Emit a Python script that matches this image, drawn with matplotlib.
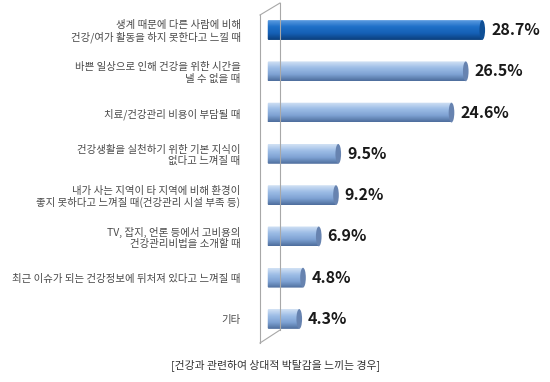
import numpy as np
import matplotlib.pyplot as plt
from matplotlib.patches import Ellipse, FancyBboxPatch
from matplotlib.colors import LinearSegmentedColormap
from matplotlib.lines import Line2D

plt.rcParams['font.family'] = ['Noto Sans CJK KR', 'DejaVu Sans']

categories = [
    '생계 때문에 다른 사람에 비해\n건강/여가 활동을 하지 못한다고 느낄 때',
    '바쁜 일상으로 인해 건강을 위한 시간을\n낼 수 없을 때',
    '치료/건강관리 비용이 부담될 때',
    '건강생활을 실천하기 위한 기본 지식이\n없다고 느껴질 때',
    '내가 사는 지역이 타 지역에 비해 환경이\n좋지 못하다고 느껴질 때(건강관리 시설 부족 등)',
    'TV, 잡지, 언론 등에서 고비용의\n건강관리비법을 소개할 때',
    '최근 이슈가 되는 건강정보에 뒤처져 있다고 느껴질 때',
    '기타',
]
values = [28.7, 26.5, 24.6, 9.5, 9.2, 6.9, 4.8, 4.3]
caption = '[건강과 관련하여 상대적 박탈감을 느끼는 경우]'

W, H = 550, 382
fig = plt.figure(figsize=(W / 100, H / 100), dpi=100)

# axes placed in pixel terms: bars start at x=267, ~7.5 px per percent
x0, px_per = 267, 7.5
xmax = 37
top_px, bot_px = 9.4, 339.6
ax = fig.add_axes([x0 / W, 1 - bot_px / H, xmax * px_per / W, (bot_px - top_px) / H])
ax.set_xlim(0, xmax)
ax.set_ylim(len(values) - 0.5, -0.5)
for s in ax.spines.values():
    s.set_visible(False)
ax.set_xticks([])

cmap_light = LinearSegmentedColormap.from_list('light', ['#d2e2f5', '#9dbde6', '#7fa3d4', '#4d6d9c'])
cmap_dark = LinearSegmentedColormap.from_list('dark', ['#5a9be0', '#1f70c8', '#1560b5', '#0b3f7c'])

bh = 0.48
cap_w = 0.75
grad = np.linspace(0, 1, 64).reshape(-1, 1)
for i, v in enumerate(values):
    cm = cmap_dark if i == 0 else cmap_light
    cap_col = '#0f4f96' if i == 0 else '#6783b0'
    body = FancyBboxPatch((0.1, i - bh / 2), v - 0.1, bh,
                          boxstyle='round,pad=0,rounding_size=0.12',
                          mutation_aspect=1 / 4, facecolor='none', edgecolor='none')
    ax.add_patch(body)
    im = ax.imshow(grad, cmap=cm, aspect='auto', extent=(0, v, i + bh / 2, i - bh / 2),
                   interpolation='bicubic', zorder=2)
    im.set_clip_path(body)
    ax.add_patch(Ellipse((v, i), cap_w, bh, facecolor=cap_col, edgecolor='none', zorder=3))
    ax.text(v + cap_w / 2 + 0.8, i, f'{v}%', va='center', ha='left',
            fontsize=11.5, fontweight='bold', color='#1a1a1a', zorder=4)

ax.set_yticks(range(len(values)))
ax.set_yticklabels(categories, fontsize=7.5, color='#4a4a4a')
for lab in ax.get_yticklabels():
    lab.set_linespacing(1.15)
ax.tick_params(axis='y', length=0, pad=19)

# 3D-style wall on the left
wall = [((260, 15), (280, 3)), ((280, 3), (280, 330)),
        ((260, 15), (260, 343)), ((260, 343), (280, 330))]
for (xa, ya), (xb, yb) in wall:
    fig.add_artist(Line2D([xa / W, xb / W], [1 - ya / H, 1 - yb / H],
                          color='#a8a8a8', lw=0.8, transform=fig.transFigure))

fig.text(276 / W, 1 - 365 / H, caption, ha='center', va='center', fontsize=7.8, color='#333333')

fig.savefig('out.png', dpi=100)
